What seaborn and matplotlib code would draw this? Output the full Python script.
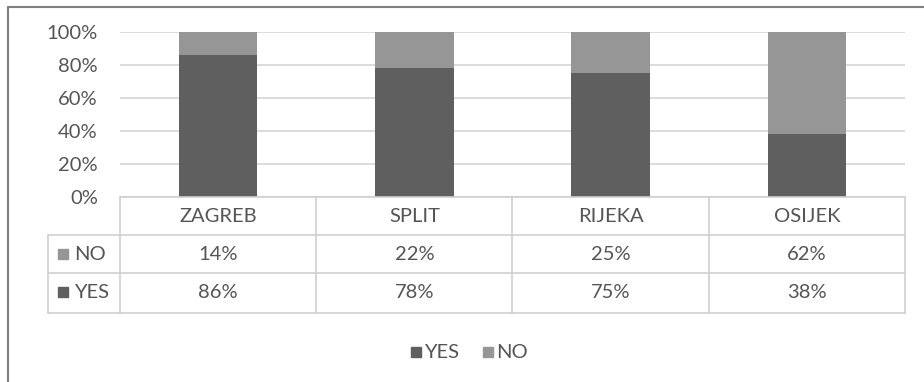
import numpy as np
import pandas as pd
import matplotlib
matplotlib.use("Agg")
import matplotlib.pyplot as plt
import seaborn as sns
from matplotlib.transforms import blended_transform_factory
from matplotlib.ticker import PercentFormatter

# data
cities = ["ZAGREB", "SPLIT", "RIJEKA", "OSIJEK"]
yes = [86, 78, 75, 38]
no = [14, 22, 25, 62]

c_yes = "#5f5f5f"
c_no = "#969696"
c_text = "#555555"
c_line = "#cfcfcf"
fs = 14.5

sns.set_style("white")
plt.rcParams["font.family"] = ["Lato", "DejaVu Sans"]

W, H = 924, 382
fig = plt.figure(figsize=(W / 100, H / 100), dpi=100)

def fy(py):
    return 1 - py / H

def fx(px):
    return px / W

# plot area in pixels
left, right, top, bottom = 120, 905, 32, 197
ax = fig.add_axes([fx(left), fy(bottom), fx(right - left), (bottom - top) / H])

df = pd.DataFrame({"city": cities, "yes": yes, "no": no})
df["total"] = df["yes"] + df["no"]

sns.barplot(data=df, x="city", y="total", color=c_no, width=0.4, ax=ax, saturation=1,
            linewidth=0, zorder=3)
sns.barplot(data=df, x="city", y="yes", color=c_yes, width=0.4, ax=ax, saturation=1,
            linewidth=0, zorder=4)

ax.set_xlim(-0.5, len(cities) - 0.5)
ax.set_ylim(0, 100)
ax.set_yticks([0, 20, 40, 60, 80, 100])
ax.yaxis.set_major_formatter(PercentFormatter(decimals=0))
ax.yaxis.grid(True, color="#d9d9d9", linewidth=1.3, zorder=0)
ax.tick_params(axis="y", length=0, pad=16, labelsize=fs, labelcolor=c_text)
ax.set_xticks([])
ax.set_xlabel("")
ax.set_ylabel("")
for s in ax.spines.values():
    s.set_visible(False)

# data table below the plot
tr = blended_transform_factory(ax.transData, fig.transFigure)
rows_y = [197, 235, 273, 313]
tab_left = 48
n = len(cities)

# horizontal lines
fig.add_artist(plt.Line2D([-0.5, n - 0.5], [fy(rows_y[0])] * 2, transform=tr, color=c_line, lw=1.2))
for py in rows_y[1:]:
    fig.add_artist(plt.Line2D([fx(tab_left), fx(right)], [fy(py)] * 2, transform=fig.transFigure, color=c_line, lw=1.2))
# vertical lines
for i in range(n + 1):
    fig.add_artist(plt.Line2D([i - 0.5, i - 0.5], [fy(rows_y[0]), fy(rows_y[3])], transform=tr, color=c_line, lw=1.2))
fig.add_artist(plt.Line2D([fx(tab_left)] * 2, [fy(rows_y[1]), fy(rows_y[3])], transform=fig.transFigure, color=c_line, lw=1.2))

for i, c in enumerate(cities):
    fig.text(i, fy(216), c, transform=tr, ha="center", va="center", fontsize=fs, color=c_text)
    fig.text(i, fy(254), f"{no[i]}%", transform=tr, ha="center", va="center", fontsize=fs, color=c_text)
    fig.text(i, fy(292), f"{yes[i]}%", transform=tr, ha="center", va="center", fontsize=fs, color=c_text)

# row labels with colour keys
for py, lab, col in [(254, "NO", c_no), (292, "YES", c_yes)]:
    fig.patches.append(plt.Rectangle((fx(58), fy(py + 5)), 10 / W, 10 / H, transform=fig.transFigure,
                                     color=col, figure=fig))
    fig.text(fx(74), fy(py), lab, ha="left", va="center", fontsize=fs, color=c_text)

# legend at bottom
for px, lab, col in [(411, "YES", c_yes), (483, "NO", c_no)]:
    fig.patches.append(plt.Rectangle((fx(px), fy(357)), 10 / W, 10 / H, transform=fig.transFigure,
                                     color=col, figure=fig))
    fig.text(fx(px + 13), fy(352), lab, ha="left", va="center", fontsize=fs, color=c_text)

# outer frame (left and top visible)
fig.add_artist(plt.Line2D([fx(8), fx(8)], [fy(7), 0], transform=fig.transFigure, color="#7f7f7f", lw=1.5))
fig.add_artist(plt.Line2D([fx(8), 1], [fy(7), fy(7)], transform=fig.transFigure, color="#7f7f7f", lw=1.5))

fig.savefig("out.png", dpi=100, facecolor="white")
